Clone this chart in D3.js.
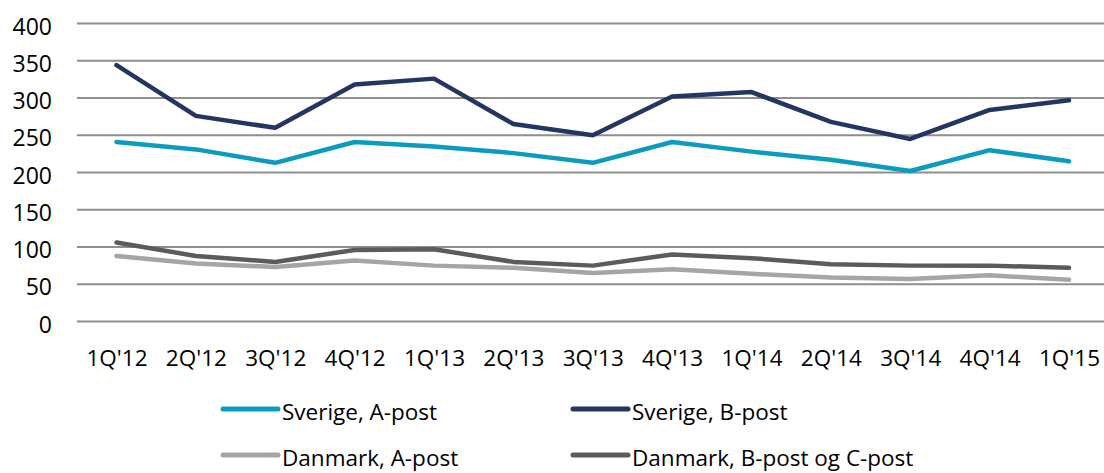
<!DOCTYPE html>
<html>
<head>
<meta charset="utf-8">
<script src="https://cdn.jsdelivr.net/npm/d3@7/dist/d3.min.js"></script>
<style>
  html, body { margin: 0; padding: 0; background: #fff; }
  svg { display: block; }
  text { font-family: "Open Sans", sans-serif; fill: #000; }
</style>
</head>
<body>
<svg id="chart" width="1104" height="473"></svg>
<script>
const categories = ["1Q'12","2Q'12","3Q'12","4Q'12","1Q'13","2Q'13","3Q'13","4Q'13","1Q'14","2Q'14","3Q'14","4Q'14","1Q'15"];
const sverigeA = [241, 231, 213, 241, 235, 226, 213, 241, 228, 217, 202, 230, 215];
const sverigeB = [344, 276, 260, 318, 326, 265, 250, 302, 308, 268, 245, 284, 297];
const danmarkA = [88, 78, 73, 82, 75, 72, 65, 70, 64, 59, 57, 62, 56];
const danmarkBC = [106, 88, 80, 96, 97, 80, 75, 90, 85, 77, 75, 75, 72];
const yTicks = [0, 50, 100, 150, 200, 250, 300, 350, 400];
const seriesNames = ["Sverige, A-post", "Sverige, B-post", "Danmark, A-post", "Danmark, B-post og C-post"];

const series = [
  { name: seriesNames[0], values: sverigeA, color: "#0A9BBF" },
  { name: seriesNames[1], values: sverigeB, color: "#253562" },
  { name: seriesNames[2], values: danmarkA, color: "#A5A5A5" },
  { name: seriesNames[3], values: danmarkBC, color: "#5B5B5B" }
];

const svg = d3.select("#chart");
const x = d3.scalePoint().domain(categories).range([116.5, 1069]);
const y = d3.scaleLinear().domain([0, 400]).range([321.5, 23.5]);

// gridlines
svg.append("g").selectAll("line").data(yTicks).join("line")
  .attr("x1", 77).attr("x2", 1104)
  .attr("y1", d => y(d)).attr("y2", d => y(d))
  .attr("stroke", "#8E8E8E").attr("stroke-width", 2);

// y axis labels
const yAxis = d3.axisLeft(y).tickValues(yTicks).tickSize(0).tickPadding(0);
const ya = svg.append("g").attr("transform", "translate(52,0)").call(yAxis);
ya.select(".domain").remove();
ya.selectAll("text").attr("font-family", "Open Sans, sans-serif").attr("font-size", 23)
  .attr("fill", "#000").attr("dy", "0.35em").attr("y", 2.5);

// x axis labels
const xAxis = d3.axisBottom(x).tickSize(0).tickPadding(0);
const xa = svg.append("g").attr("transform", "translate(0,366)").call(xAxis);
xa.select(".domain").remove();
xa.selectAll("text").attr("font-family", "Open Sans, sans-serif").attr("font-size", 22.5)
  .attr("fill", "#000").attr("dy", 0).attr("y", 0);

// lines
const line = d3.line().x((d, i) => x(categories[i])).y(d => y(d));
svg.append("g").selectAll("path").data(series).join("path")
  .attr("d", d => line(d.values))
  .attr("fill", "none")
  .attr("stroke", d => d.color)
  .attr("stroke-width", 4.5)
  .attr("stroke-linejoin", "round")
  .attr("stroke-linecap", "round");

// legend
const legendPos = [[223, 409], [573, 409], [223, 455], [573, 455]];
const lg = svg.append("g").selectAll("g").data(series).join("g")
  .attr("transform", (d, i) => `translate(${legendPos[i][0]},${legendPos[i][1]})`);
lg.append("line").attr("x1", 0).attr("x2", 55).attr("y1", 0).attr("y2", 0)
  .attr("stroke", d => d.color).attr("stroke-width", 5).attr("stroke-linecap", "round");
lg.append("text").attr("x", 59).attr("y", 11).attr("font-size", 22.5).text(d => d.name);
</script>
</body>
</html>
